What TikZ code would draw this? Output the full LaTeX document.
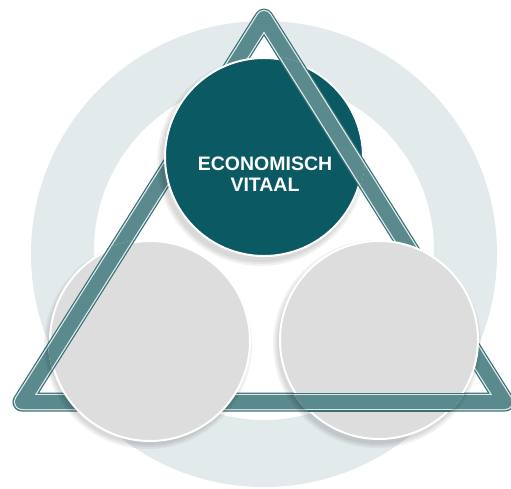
\documentclass[tikz,border=0pt]{standalone}
\usepackage{fontspec}
\setmainfont{Liberation Sans}
\definecolor{ringc}{HTML}{E3EAEB}
\definecolor{tealc}{HTML}{0B5963}
\definecolor{greyc}{HTML}{DDDDDD}
\definecolor{bardark}{HTML}{3C7076}
\definecolor{barlight}{HTML}{DCEAEA}
\definecolor{barmid}{HTML}{5A898E}
\tikzset{
  barout/.style={line width=19pt,bardark,line join=round},
  barlin/.style={line width=16.5pt,barlight,line join=round},
  barmd/.style={line width=14pt,barmid,line join=round},
  disc/.style={circle,inner sep=0pt,draw=white,line width=2pt},
  shade1/.style={fill=black,opacity=0.05},
  lbl/.style={text=white,font=\bfseries\fontsize{19.5}{21}\selectfont,anchor=base,inner sep=0pt}
}
\begin{document}
\begin{tikzpicture}[x=1pt,y=-1pt]
\useasboundingbox (0,0) rectangle (511,488);
\fill[white] (0,0) rectangle (511,488);
% background ring
\fill[ringc,even odd rule] (264,254) circle (233) (264,250) circle (170);
% triangle
\coordinate (A) at (264,18);
\coordinate (B) at (22,402);
\coordinate (C) at (505,402);
\fill[white] (A) -- (B) -- (C) -- cycle;
\draw[barout] (A) -- (B) -- (C) -- cycle;
\draw[barlin] (A) -- (B) -- (C) -- cycle;
\draw[barmd] (A) -- (B) -- (C) -- cycle;
% shadows
\foreach \d/\r in {1/104,2/102,3/100} {
  \fill[shade1] (261,162) circle (\r);
  \fill[shade1] (148,345) circle (\r);
  \fill[shade1] (377,344) circle (\r);
}
% circles
\node[disc,fill=tealc,minimum size=198pt] (top) at (264,157) {};
\node[disc,fill=greyc,minimum size=200pt] (bl) at (150,341) {};
\node[disc,fill=greyc,minimum size=198pt] (br) at (379,340) {};
% bars passing over circles
\begin{scope}
  \clip (top.center) circle (101);
  \draw[barout] (A) -- (C);
  \draw[barlin] (A) -- (C);
  \draw[barmd] (A) -- (C);
\end{scope}
\begin{scope}
  \clip (bl.center) circle (102);
  \draw[barout] (A) -- (B);
  \draw[barlin] (A) -- (B);
  \draw[barmd] (A) -- (B);
\end{scope}
\begin{scope}
  \clip (br.center) circle (101);
  \draw[barout] (B) -- (C);
  \draw[barlin] (B) -- (C);
  \draw[barmd] (B) -- (C);
\end{scope}
% label
\node[lbl] (t1) at (265,170) {ECONOMISCH};
\node[lbl] (t2) at (265,191) {VITAAL};
\end{tikzpicture}
\end{document}
